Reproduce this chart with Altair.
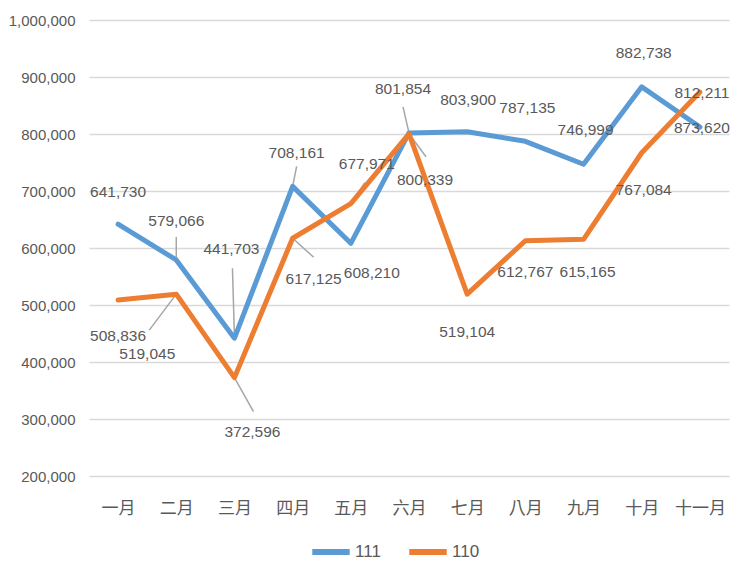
import altair as alt
import pandas as pd

months = ['一月', '二月', '三月', '四月', '五月', '六月', '七月', '八月', '九月', '十月', '十一月']
series_names = ['111', '110']
v111 = [641730, 579066, 441703, 708161, 608210, 801854, 803900, 787135, 746999, 882738, 812211]
v110 = [508836, 519045, 372596, 617125, 677971, 800339, 519104, 612767, 615165, 767084, 873620]
y_ticks = [200000, 300000, 400000, 500000, 600000, 700000, 800000, 900000, 1000000]

# label placement styling (pixel offsets from the point, y down)
lab111_dx = [0, 0, -3, 4, 21, -6, 1, 2, 2, 2, 2]
lab111_dy = [-32, -39, -89, -33, 30, -44, -32, -33, -34, -34, -34]
lead111 = [None, (0, -23), (-2, -70), (4, -20), None, (-6, -26), None, None, None, None, None]
lab110_dx = [0, -29, 18, 21, 16, 16, 0, 0, 4, 2, 2]
lab110_dy = [36, 60, 54, 41, -40, 46, 38, 31, 33, 37, 36]
lead110 = [None, (-27, 36), (19, 34), (21, 19), (14, -21), (17, 23), None, None, None, None, None]

W, H = 640, 456
Y0, Y1 = 200000, 1000000
px_x = W / len(months)
px_y = (Y1 - Y0) / H

FONT = "Liberation Sans, Arial, sans-serif"
CJK = "Noto Sans CJK TC"
GRAY = "#595959"
colors = ['#5B9BD5', '#ED7D31']

rows = []
for s, vals, ldx, ldy, lead in [('111', v111, lab111_dx, lab111_dy, lead111),
                                ('110', v110, lab110_dx, lab110_dy, lead110)]:
    for i, v in enumerate(vals):
        r = dict(series=s, i=i, month=months[i], value=v,
                 lx=i + ldx[i] / px_x, ly=v - ldy[i] * px_y,
                 label=f"{v:,}", has_lead=lead[i] is not None)
        if lead[i] is not None:
            r['ex'] = i + lead[i][0] / px_x
            r['ey'] = v - lead[i][1] * px_y
        else:
            r['ex'] = i
            r['ey'] = v
        rows.append(r)
df = pd.DataFrame(rows)

xscale = alt.Scale(domain=[-0.5, len(months) - 0.5], nice=False, zero=False)
yscale = alt.Scale(domain=[Y0, Y1], nice=False, zero=False)
label_expr = "[" + ",".join(f"'{m}'" for m in months) + "][datum.value]"

x_axis = alt.Axis(values=list(range(len(months))), labelExpr=label_expr, grid=False, domain=False,
                  ticks=False, title=None, labelFont=CJK, labelFontSize=17, labelColor=GRAY,
                  labelPadding=24)
y_axis = alt.Axis(values=y_ticks, format=",d", grid=True, gridColor="#D9D9D9", gridWidth=1.5,
                  domain=False, ticks=False, title=None, labelFont=FONT, labelFontSize=15,
                  labelColor=GRAY, labelPadding=14)

color = alt.Color('series:N', scale=alt.Scale(domain=series_names, range=colors),
                  legend=alt.Legend(title=None, orient='none', legendX=220, legendY=510,
                                    direction='horizontal', symbolType='stroke',
                                    symbolSize=1400, symbolStrokeWidth=6,
                                    labelFont=FONT, labelFontSize=17, labelColor=GRAY,
                                    labelOffset=2, columnPadding=16, padding=0))

base = alt.Chart(df)

leaders = base.transform_filter('datum.has_lead').mark_rule(color='#A6A6A6', strokeWidth=1.5).encode(
    x=alt.X('i:Q', scale=xscale, axis=x_axis),
    y=alt.Y('value:Q', scale=yscale, axis=y_axis),
    x2='ex:Q', y2='ey:Q')

lines = []
for s in series_names:
    lines.append(base.transform_filter(f"datum.series == '{s}'").mark_line(
        strokeWidth=5, strokeCap='round', strokeJoin='round').encode(
        x=alt.X('i:Q', scale=xscale, axis=x_axis),
        y=alt.Y('value:Q', scale=yscale, axis=y_axis),
        color=color))

labels = base.mark_text(font=FONT, fontSize=15.5, color=GRAY, align='center', baseline='middle').encode(
    x=alt.X('lx:Q', scale=xscale, axis=x_axis),
    y=alt.Y('ly:Q', scale=yscale, axis=y_axis),
    text='label:N')

chart = alt.layer(leaders, *lines, labels).properties(
    width=W, height=H,
    autosize=alt.AutoSizeParams(type='none'),
    padding={'left': 81, 'top': 12, 'right': 2, 'bottom': 86}
).configure(background='white').configure_view(stroke=None, strokeWidth=0)

chart.save("out.html", embed_options={"renderer": "svg", "actions": False})
